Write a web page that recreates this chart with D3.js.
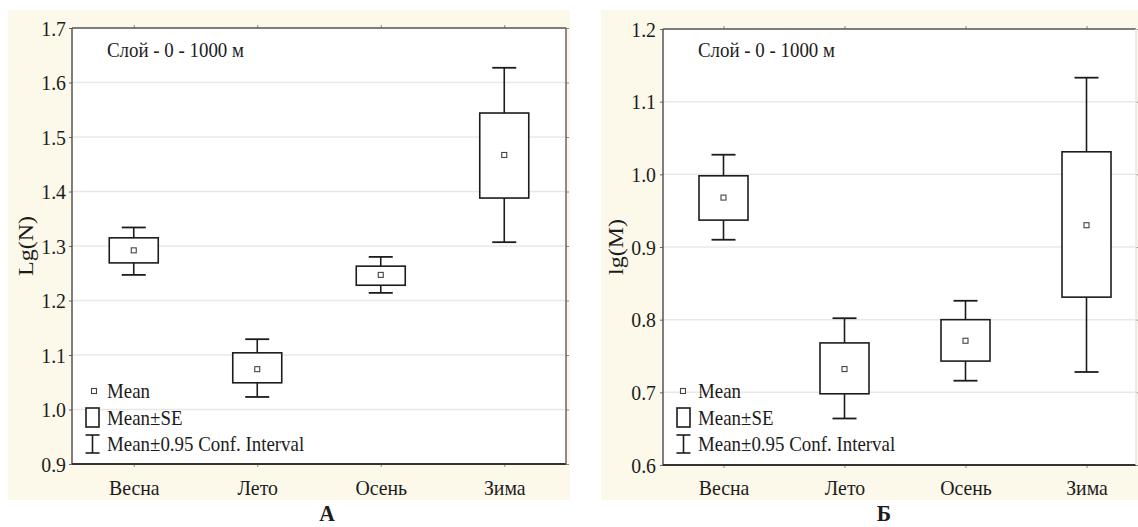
<!DOCTYPE html>
<html>
<head>
<meta charset="utf-8">
<script src="https://cdn.jsdelivr.net/npm/d3@7"></script>
<style>
html,body{margin:0;padding:0;background:#fff;}
svg{display:block;}
svg text{font-family:"Liberation Serif","Times New Roman","DejaVu Serif",serif;}
</style>
</head>
<body>
<svg id="chart" width="1138" height="527"></svg>
<script>
// ---------- DATA ----------
const categories = ["Весна", "Лето", "Осень", "Зима"];

// Panel A: Lg(N)
const A_mean = [1.292, 1.074, 1.247, 1.467];
const A_seLow = [1.269, 1.049, 1.228, 1.388];
const A_seHigh = [1.315, 1.104, 1.263, 1.544];
const A_ciLow = [1.247, 1.023, 1.214, 1.307];
const A_ciHigh = [1.334, 1.129, 1.280, 1.627];
const A_ticks = [0.9, 1.0, 1.1, 1.2, 1.3, 1.4, 1.5, 1.6, 1.7];

// Panel Б: lg(M)
const B_mean = [0.968, 0.732, 0.771, 0.930];
const B_seLow = [0.937, 0.698, 0.743, 0.831];
const B_seHigh = [0.998, 0.768, 0.800, 1.031];
const B_ciLow = [0.910, 0.664, 0.716, 0.728];
const B_ciHigh = [1.027, 0.802, 0.826, 1.133];
const B_ticks = [0.6, 0.7, 0.8, 0.9, 1.0, 1.1, 1.2];

const titleText = "Слой - 0 - 1000 м";
const legendLabels = ["Mean", "Mean±SE", "Mean±0.95 Conf. Interval"];

// ---------- STYLE ----------
const SX = 0.9;
const INK = "#1c1c1c";
const CREAM = "#fcf8ea";

const svg = d3.select("#chart");

function sText(g, x, y, str, size, anchor, weight) {
  return g.append("text")
    .attr("transform", `translate(${x},${y}) scale(${SX},1)`)
    .style("font-size", size + "px")
    .style("font-weight", weight || "normal")
    .attr("text-anchor", anchor || "start")
    .attr("fill", INK)
    .text(str);
}

function squeezeAxisText(sel) {
  sel.selectAll("text").each(function () {
    const t = d3.select(this);
    const x = +t.attr("x") || 0;
    t.attr("x", x / SX).attr("transform", `scale(${SX},1)`);
  });
}

function styleAxisText(sel) {
  sel.attr("font-family", null).attr("font-size", null);
  sel.selectAll("text").style("font-size", "22px").attr("fill", INK);
}

function drawPanel(o) {
  const g = svg.append("g");
  g.append("rect").attr("x", o.bg[0]).attr("y", o.bg[1])
    .attr("width", o.bg[2] - o.bg[0]).attr("height", o.bg[3] - o.bg[1])
    .attr("fill", CREAM);
  g.append("rect").attr("x", o.left).attr("y", o.top)
    .attr("width", o.frameRight - o.left).attr("height", o.bottom - o.top)
    .attr("fill", "#fff");

  const x = d3.scalePoint().domain(categories).range([o.left, o.xEnd]).padding(0.5);
  const y = d3.scaleLinear().domain(o.domain).range([o.bottom, o.top]);

  g.append("g").selectAll("line").data(o.ticks.slice(1, -1)).join("line")
    .attr("x1", o.left).attr("x2", o.frameRight)
    .attr("y1", d => y(d)).attr("y2", d => y(d))
    .attr("stroke", "#e8e8e8").attr("stroke-width", 1.5);

  const ay = g.append("g").attr("transform", `translate(${o.left},0)`)
    .call(d3.axisLeft(y).tickValues(o.ticks).tickFormat(d3.format(".1f"))
      .tickSize(3).tickPadding(o.yPad));
  ay.select(".domain").remove();
  ay.selectAll("line").attr("stroke", "#666");
  styleAxisText(ay);
  squeezeAxisText(ay);

  const ayr = g.append("g").attr("transform", `translate(${o.frameRight},0)`)
    .call(d3.axisRight(y).tickValues(o.ticks).tickSize(3).tickFormat(""));
  ayr.select(".domain").remove();
  ayr.selectAll("line").attr("stroke", "#888");

  const ax = g.append("g").attr("transform", `translate(0,${o.bottom})`)
    .call(d3.axisBottom(x).tickSize(3).tickPadding(o.xPad));
  ax.select(".domain").remove();
  ax.selectAll("line").attr("stroke", "#888");
  styleAxisText(ax);
  squeezeAxisText(ax);

  const axt = g.append("g").attr("transform", `translate(0,${o.top})`)
    .call(d3.axisTop(x).tickSize(3).tickFormat(""));
  axt.select(".domain").remove();
  axt.selectAll("line").attr("stroke", "#888");

  g.append("line").attr("x1", o.left).attr("x2", o.left).attr("y1", o.top).attr("y2", o.bottom)
    .attr("stroke", "#555").attr("stroke-width", 1.5);
  g.append("line").attr("x1", o.left).attr("x2", o.frameRight).attr("y1", o.top).attr("y2", o.top)
    .attr("stroke", "#555").attr("stroke-width", 1.5);
  g.append("line").attr("x1", o.left).attr("x2", o.frameRight).attr("y1", o.bottom).attr("y2", o.bottom)
    .attr("stroke", "#333").attr("stroke-width", 1.8);
  g.append("line").attr("x1", o.frameRight).attr("x2", o.frameRight).attr("y1", o.top).attr("y2", o.bottom)
    .attr("stroke", o.rightFrameColor).attr("stroke-width", 1.5);

  const rows = categories.map((c, i) => ({
    c, mean: o.mean[i], seLo: o.seLow[i], seHi: o.seHigh[i], ciLo: o.ciLow[i], ciHi: o.ciHigh[i]
  }));
  const BW = 49, CW = 24;
  const grp = g.append("g").selectAll("g").data(rows).join("g");
  grp.append("line").attr("x1", d => x(d.c)).attr("x2", d => x(d.c))
    .attr("y1", d => y(d.ciHi)).attr("y2", d => y(d.seHi))
    .attr("stroke", INK).attr("stroke-width", 1.6);
  grp.append("line").attr("x1", d => x(d.c)).attr("x2", d => x(d.c))
    .attr("y1", d => y(d.seLo)).attr("y2", d => y(d.ciLo))
    .attr("stroke", INK).attr("stroke-width", 1.6);
  grp.append("line").attr("x1", d => x(d.c) - CW / 2).attr("x2", d => x(d.c) + CW / 2)
    .attr("y1", d => y(d.ciHi)).attr("y2", d => y(d.ciHi))
    .attr("stroke", INK).attr("stroke-width", 1.8);
  grp.append("line").attr("x1", d => x(d.c) - CW / 2).attr("x2", d => x(d.c) + CW / 2)
    .attr("y1", d => y(d.ciLo)).attr("y2", d => y(d.ciLo))
    .attr("stroke", INK).attr("stroke-width", 1.8);
  grp.append("rect").attr("x", d => x(d.c) - BW / 2).attr("width", BW)
    .attr("y", d => y(d.seHi)).attr("height", d => y(d.seLo) - y(d.seHi))
    .attr("fill", "#fff").attr("stroke", INK).attr("stroke-width", 1.6);
  grp.append("rect").attr("x", d => x(d.c) - 2.5).attr("y", d => y(d.mean) - 2.5)
    .attr("width", 5).attr("height", 5)
    .attr("fill", "#fff").attr("stroke", "#444").attr("stroke-width", 1.1);

  sText(g, o.titleX, 57, titleText, 21);

  g.append("text")
    .attr("transform", `translate(${o.yTitleX},${(o.top + o.bottom) / 2}) scale(${SX},1) rotate(-90)`)
    .style("font-size", "24px").attr("text-anchor", "middle")
    .attr("fill", INK).text(o.yTitle);

  const L = o.legend;
  g.append("rect").attr("x", L.mx - 2.5).attr("y", 391 - 2.5).attr("width", 5).attr("height", 5)
    .attr("fill", "#fff").attr("stroke", "#444").attr("stroke-width", 1.1);
  sText(g, L.tx, 398, legendLabels[0], 21);
  g.append("rect").attr("x", L.bx).attr("y", 408).attr("width", 13).attr("height", 19)
    .attr("fill", "#fff").attr("stroke", INK).attr("stroke-width", 1.6);
  sText(g, L.tx, 425, legendLabels[1], 21);
  const cx = L.bx + 6.5;
  g.append("line").attr("x1", cx).attr("x2", cx).attr("y1", 435).attr("y2", 453)
    .attr("stroke", INK).attr("stroke-width", 1.6);
  g.append("line").attr("x1", cx - 7).attr("x2", cx + 7).attr("y1", 435).attr("y2", 435)
    .attr("stroke", INK).attr("stroke-width", 1.6);
  g.append("line").attr("x1", cx - 7).attr("x2", cx + 7).attr("y1", 453).attr("y2", 453)
    .attr("stroke", INK).attr("stroke-width", 1.6);
  sText(g, L.tx, 451, legendLabels[2], 21);

  sText(g, o.letterX, 521, o.letter, 24, "middle", "bold");
}

drawPanel({
  bg: [8, 10, 570, 500],
  left: 72, top: 28, bottom: 464, frameRight: 566, xEnd: 566,
  rightFrameColor: "#666",
  domain: [0.9, 1.7], ticks: A_ticks, yPad: 3, xPad: 12,
  mean: A_mean, seLow: A_seLow, seHigh: A_seHigh, ciLow: A_ciLow, ciHigh: A_ciHigh,
  titleX: 107, yTitle: "Lg(N)", yTitleX: 33,
  legend: { mx: 94, bx: 86, tx: 107 },
  letter: "А", letterX: 327
});

drawPanel({
  bg: [601, 10, 1138, 500],
  left: 663, top: 29, bottom: 465, frameRight: 1136, xEnd: 1147,
  rightFrameColor: "#e6e6e6",
  domain: [0.6, 1.2], ticks: B_ticks, yPad: 4, xPad: 11,
  mean: B_mean, seLow: B_seLow, seHigh: B_seHigh, ciLow: B_ciLow, ciHigh: B_ciHigh,
  titleX: 698, yTitle: "lg(M)", yTitleX: 623,
  legend: { mx: 683, bx: 677, tx: 698 },
  letter: "Б", letterX: 884
});
</script>
</body>
</html>
